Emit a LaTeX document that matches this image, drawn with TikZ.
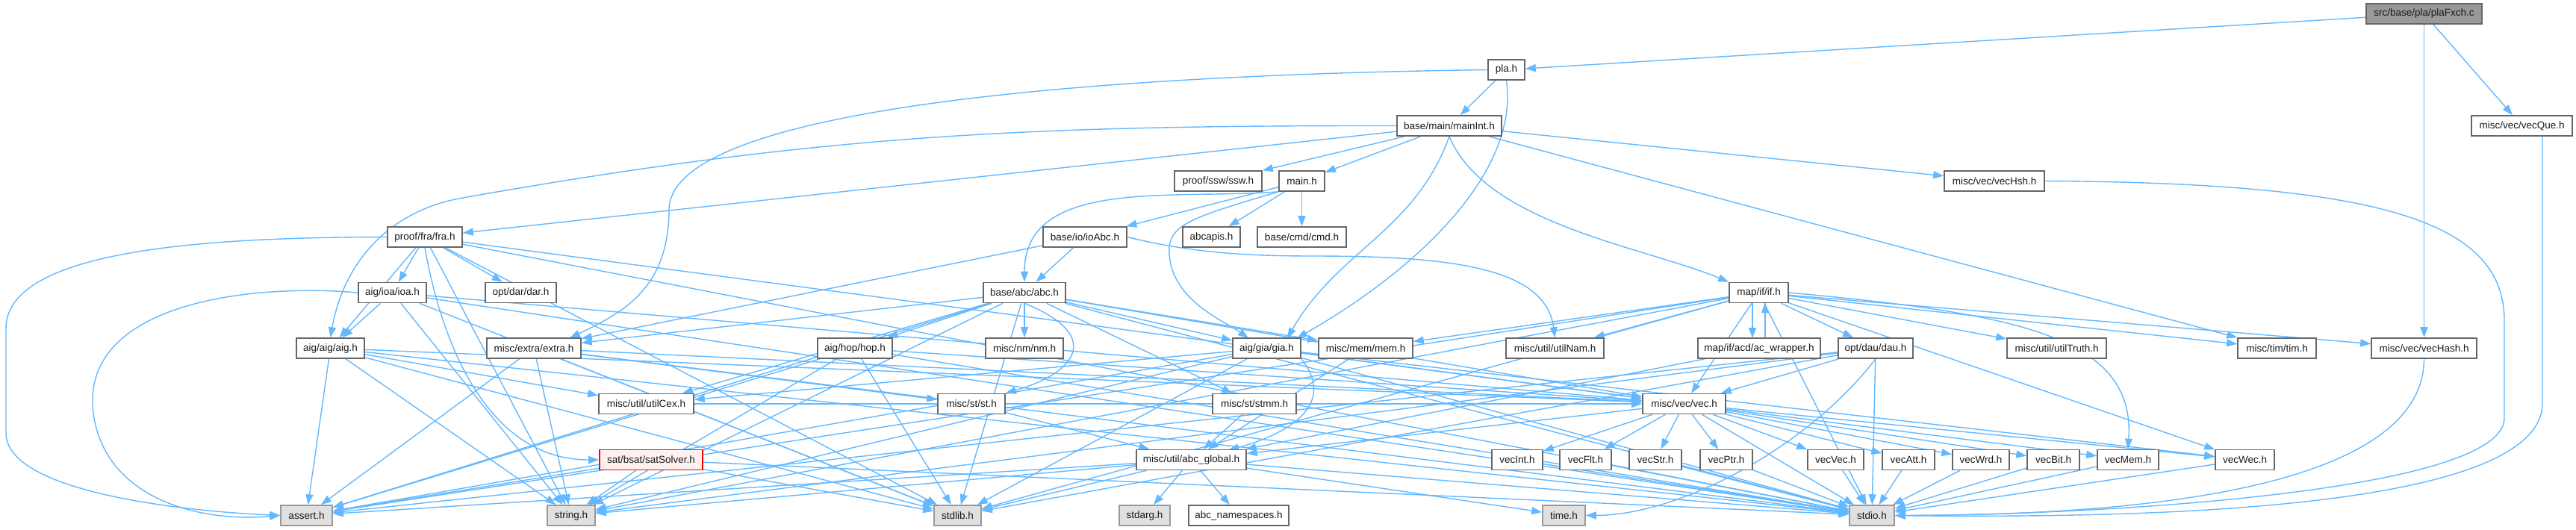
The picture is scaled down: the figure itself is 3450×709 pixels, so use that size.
\documentclass[tikz,border=0pt]{standalone}
\usepackage{fontspec}
\setmainfont{Liberation Sans}
\usetikzlibrary{arrows.meta}
\definecolor{edgeblue}{HTML}{63B8FF}
\definecolor{nodeborder}{HTML}{666666}
\definecolor{leafborder}{HTML}{999999}
\definecolor{leaffill}{HTML}{E0E0E0}
\definecolor{rootfill}{HTML}{999999}
\definecolor{redfill}{HTML}{FFF0F0}
\pgfdeclarelayer{bg}
\pgfsetlayers{bg,main}
\begin{document}
\begin{tikzpicture}[x=0.25pt,y=-0.25pt,
  nd/.style={draw=nodeborder, line width=0.4pt, fill=white, minimum height=6.75pt, inner sep=0pt,
    font=\fontsize{3.375}{4}\selectfont, text=black!90},
  W/.style={minimum width=#1*0.25pt},
  sys/.style={nd, draw=leafborder, fill=leaffill},
  root/.style={nd, fill=rootfill},
  trunc/.style={nd, draw=red, fill=redfill},
  e/.style={draw=edgeblue, line width=0.35pt, -{Triangle[length=3.5pt,width=2.5pt]}},
]
\useasboundingbox (0,0) rectangle (3450,709);
% row 0
\node[root, W=155] (plaFxch) at (3246.5,18.5) {src/base/pla/plaFxch.c};
% row 1
\node[nd, W=49] (pla) at (2017.5,93.5) {pla.h};
% row 2
\node[nd, W=140] (mainInt) at (1941,168.5) {base/main/mainInt.h};
\node[nd, W=135] (vecQue) at (3377.5,168.5) {misc/vec/vecQue.h};
% row 3
\node[nd, W=117] (ssw) at (1631.5,242.5) {proof/ssw/ssw.h};
\node[nd, W=61] (mainh) at (1743.5,242.5) {main.h};
\node[nd, W=134] (vecHsh) at (2671,242.5) {misc/vec/vecHsh.h};
% row 4
\node[nd, W=100] (fra) at (569,317.5) {proof/fra/fra.h};
\node[nd, W=112] (ioAbc) at (1453,317.5) {base/io/ioAbc.h};
\node[nd, W=77] (abcapis) at (1622.5,317.5) {abcapis.h};
\node[nd, W=119] (cmd) at (1743.5,317.5) {base/cmd/cmd.h};
% row 5
\node[nd, W=91] (ioa) at (525.5,392) {aig/ioa/ioa.h};
\node[nd, W=95] (dar) at (697.5,392) {opt/dar/dar.h};
\node[nd, W=110] (abc) at (1372,392) {base/abc/abc.h};
\node[nd, W=79] (ifh) at (2355.5,392) {map/if/if.h};
% row 6
\node[nd, W=91] (aig) at (442.5,466.5) {aig/aig/aig.h};
\node[nd, W=126] (extra) at (715,466.5) {misc/extra/extra.h};
\node[nd, W=100] (hop) at (1145,466.5) {aig/hop/hop.h};
\node[nd, W=104] (nm) at (1372,466.5) {misc/nm/nm.h};
\node[nd, W=91] (gia) at (1696.5,466.5) {aig/gia/gia.h};
\node[nd, W=126] (mem) at (1829,466.5) {misc/mem/mem.h};
\node[nd, W=131] (utilNam) at (2082.5,466.5) {misc/util/utilNam.h};
\node[nd, W=164] (acw) at (2356,466.5) {map/if/acd/ac\_wrapper.h};
\node[nd, W=100] (dau) at (2512,466.5) {opt/dau/dau.h};
\node[nd, W=133] (utilTruth) at (2754.5,466.5) {misc/util/utilTruth.h};
\node[nd, W=105] (tim) at (3049.5,466.5) {misc/tim/tim.h};
\node[nd, W=141] (vecHash) at (3246.5,466.5) {misc/vec/vecHash.h};
% row 7
\node[nd, W=127] (utilCex) at (865.5,541) {misc/util/utilCex.h};
\node[nd, W=90] (st) at (1301,541) {misc/st/st.h};
\node[nd, W=112] (stmm) at (1680,541) {misc/st/stmm.h};
\node[nd, W=111] (vec) at (2255.5,541) {misc/vec/vec.h};
% row 8
\node[trunc, W=138] (sat) at (872,616) {sat/bsat/satSolver.h};
\node[nd, W=147] (global) at (1595.5,616) {misc/util/abc\_global.h};
\node[nd, W=68] (vecInt) at (2032,616) {vecInt.h};
\node[nd, W=69] (vecFlt) at (2123.5,616) {vecFlt.h};
\node[nd, W=70] (vecStr) at (2217,616) {vecStr.h};
\node[nd, W=70] (vecPtr) at (2312,616) {vecPtr.h};
\node[nd, W=75] (vecVec) at (2458.5,616) {vecVec.h};
\node[nd, W=70] (vecAtt) at (2556,616) {vecAtt.h};
\node[nd, W=76] (vecWrd) at (2653,616) {vecWrd.h};
\node[nd, W=70] (vecBit) at (2750,616) {vecBit.h};
\node[nd, W=82] (vecMem) at (2850,616) {vecMem.h};
\node[nd, W=79] (vecWec) at (3006.5,616) {vecWec.h};
% row 9
\node[sys, W=69] (assert) at (410.5,690.5) {assert.h};
\node[sys, W=64] (stringh) at (765,690.5) {string.h};
\node[sys, W=63] (stdlib) at (1282.5,690.5) {stdlib.h};
\node[sys, W=68] (stdarg) at (1533,690.5) {stdarg.h};
\node[nd, W=134] (abcns) at (1659,690.5) {abc\_namespaces.h};
\node[sys, W=57] (timeh) at (2094.5,690.5) {time.h};
\node[sys, W=60] (stdio) at (2507,690.5) {stdio.h};

% way points of the routed connectors
\coordinate (wL1) at (8,440);
\coordinate (wL2) at (8,580);
\coordinate (wL3) at (126,560);
\coordinate (wP) at (896,280);
\coordinate (wA) at (620,265);
\coordinate (wG) at (1566,330);
\coordinate (wN) at (1760,343);
\coordinate (wR1) at (3354,430);
\coordinate (wR2) at (3354,560);
\coordinate (wQ0) at (3405,182);
\coordinate (wQ1) at (3405,540);
\coordinate (extraT) at (763,453);
\coordinate (giaT1) at (1737,453);
\coordinate (giaT2) at (1724,453);
\coordinate (giaT3) at (1672,453);
\coordinate (globalT) at (1645,603);
\coordinate (ifhDa) at (2347,405);
\coordinate (acwDa) at (2347,453);
\coordinate (ifhUa) at (2364,405);
\coordinate (acwUa) at (2364,453);

\begin{pgfonlayer}{bg}
% top part
\draw[e] (plaFxch) -- (pla);
\draw[e] (plaFxch) -- (vecHash);
\draw[e] (plaFxch) -- (vecQue);
\draw[e] (pla) -- (mainInt);
\draw[e] (pla.west) .. controls (1500,100) and (900,140) .. (wP) .. controls (896,390) and (830,420) .. (extraT);
\draw[e] (pla.south) .. controls (2035,230) and (1900,360) .. (giaT1);
\draw[e] (mainInt) -- (mainh);
\draw[e] (mainInt) -- (ssw);
\draw[e] (mainInt) -- (fra);
\draw[e] (mainInt) -- (tim);
\draw[e] (mainInt) -- (vecHsh);
\draw[e] (mainInt.west) .. controls (1380,168) and (1100,180) .. (wA) .. controls (520,282) and (460,353) .. (aig.north);
\draw[e] (mainInt.south) .. controls (1895,310) and (1792,335) .. (giaT2);
\draw[e] (mainInt.south) .. controls (1990,300) and (2200,330) .. (ifh.north west);
\draw[e] (mainh) -- (ioAbc);
\draw[e] (mainh) -- (abcapis);
\draw[e] (mainh) -- (cmd);
\draw[e] (mainh.south west) .. controls (1572,268) and (1372,237) .. (abc.north);
\draw[e] (mainh.south west) .. controls (1600,290) and (1570,300) .. (wG) .. controls (1562,400) and (1640,430) .. (giaT3);
\draw[e] (ioAbc) -- (abc);
\draw[e] (ioAbc) -- (extra);
\draw[e] (ioAbc.east) .. controls (1600,340) and (1680,343) .. (wN) .. controls (1950,343) and (2070,360) .. (utilNam.north);
% fra
\draw[e] (fra) -- (ioa);
\draw[e] (fra) -- (aig);
\draw[e] (fra) -- (dar);
\draw[e] (fra) -- (vec);
\draw[e] (fra) -- (stdio);
\draw[e] (fra) -- (stdlib);
\draw[e] (fra) -- (stringh);
\draw[e] (fra.south) .. controls (594,473) and (659,616) .. (sat.west);
\draw[e] (fra.west) .. controls (300,318) and (8,330) .. (wL1) -- (wL2) .. controls (8,660) and (250,685) .. (assert.west);
% ioa
\draw[e] (ioa) -- (aig);
\draw[e] (ioa) -- (vec);
\draw[e] (ioa) -- (stdio);
\draw[e] (ioa) -- (stdlib);
\draw[e] (ioa) -- (stringh);
\draw[e] (ioa.west) .. controls (327,379) and (100,409) .. (wL3) .. controls (145,668) and (266,700) .. (assert.west);
% aig
\draw[e] (aig) -- (vec);
\draw[e] (aig) -- (utilCex);
\draw[e] (aig) -- (stdio);
\draw[e] (aig) -- (stdlib);
\draw[e] (aig) -- (stringh);
\draw[e] (aig) -- (assert);
% abc
\draw[e] (abc) -- (hop);
\draw[e] (abc) -- (nm);
\draw[e] (abc.south) .. controls (1480,450) and (1440,500) .. (st.north east);
\draw[e] (abc) -- (stmm);
\draw[e] (abc) -- (gia);
\draw[e] (abc) -- (mem);
\draw[e] (abc) -- (utilCex);
\draw[e] (abc) -- (extra);
\draw[e] (abc) -- (vec);
\draw[e] (abc) -- (stdio);
\draw[e] (abc) -- (stdlib);
\draw[e] (abc) -- (stringh);
\draw[e] (abc) -- (assert);
% hop
\draw[e] (hop) -- (vec);
\draw[e] (hop) -- (stdio);
\draw[e] (hop) -- (stdlib);
\draw[e] (hop) -- (stringh);
\draw[e] (hop) -- (assert);
% extra
\draw[e] (extra) -- (st);
\draw[e] (extra) -- (vec);
\draw[e] (extra) -- (stdio);
\draw[e] (extra) -- (stdlib);
\draw[e] (extra) -- (stringh);
\draw[e] (extra) -- (assert);
% gia
\draw[e] (gia) -- (vec);
\draw[e] (gia) -- (vecWec);
\draw[e] (gia) -- (utilCex);
\draw[e] (gia.south east) .. controls (1790,540) and (1730,580) .. (globalT);
\draw[e] (gia) -- (stdio);
\draw[e] (gia) -- (stdlib);
\draw[e] (gia) -- (stringh);
\draw[e] (gia) -- (assert);
% small ones
\draw[e] (mem) -- (global);
\draw[e] (stmm) -- (global);
\draw[e] (st) -- (global);
\draw[e] (utilCex) -- (vec);
\draw[e] (sat) -- (stdio);
\draw[e] (sat) -- (stdlib);
\draw[e] (sat) -- (stringh);
\draw[e] (sat) -- (assert);
% if
\draw[e] (ifhDa) -- (acwDa);
\draw[e] (acwUa) -- (ifhUa);
\draw[e] (ifh) -- (dau);
\draw[e] (ifh) -- (utilTruth);
\draw[e] (ifh) -- (utilNam);
\draw[e] (ifh) -- (mem);
\draw[e] (ifh) -- (tim);
\draw[e] (ifh) -- (vecHash);
\draw[e] (ifh.east) .. controls (2700,420) and (2860,450) .. (vecMem.north);
\draw[e] (ifh) -- (vecWec);
\draw[e] (ifh) -- (vec);
\draw[e] (ifh) -- (stdio);
\draw[e] (ifh) -- (stdlib);
\draw[e] (ifh) -- (stringh);
\draw[e] (ifh) -- (assert);
\draw[e] (acw) -- (global);
% dau
\draw[e] (dau) -- (vec);
\draw[e] (dau.south) .. controls (2420,600) and (2250,690) .. (timeh.east);
\draw[e] (dau) -- (stdio);
\draw[e] (dau) -- (stdlib);
\draw[e] (dau) -- (stringh);
\draw[e] (dau) -- (assert);
% vec
\draw[e] (vec) -- (vecInt);
\draw[e] (vec) -- (vecFlt);
\draw[e] (vec) -- (vecStr);
\draw[e] (vec) -- (vecPtr);
\draw[e] (vec) -- (vecVec);
\draw[e] (vec) -- (vecAtt);
\draw[e] (vec) -- (vecWrd);
\draw[e] (vec) -- (vecBit);
\draw[e] (vec) -- (vecMem);
\draw[e] (vec) -- (vecWec);
\draw[e] (vec) -- (global);
\draw[e] (vec) -- (stdio);
% vec members
\draw[e] (vecInt) -- (stdio);
\draw[e] (vecFlt) -- (stdio);
\draw[e] (vecStr) -- (stdio);
\draw[e] (vecPtr) -- (stdio);
\draw[e] (vecVec) -- (stdio);
\draw[e] (vecAtt) -- (stdio);
\draw[e] (vecWrd) -- (stdio);
\draw[e] (vecBit) -- (stdio);
\draw[e] (vecMem) -- (stdio);
\draw[e] (vecWec) -- (stdio);
% global
\draw[e] (global) -- (stdio);
\draw[e] (global) -- (stdlib);
\draw[e] (global) -- (stringh);
\draw[e] (global) -- (assert);
\draw[e] (global) -- (stdarg);
\draw[e] (global) -- (abcns);
\draw[e] (global) -- (timeh);
% right side curves
\draw[e] (vecHsh.east) .. controls (3200,245) and (3354,300) .. (wR1) -- (wR2) .. controls (3354,660) and (2800,690) .. (stdio.east);
\draw[e] (wQ0) -- (wQ1) .. controls (3405,680) and (2900,695) .. (stdio.east);
\draw[e] (vecHash.south) .. controls (3246,620) and (3000,690) .. (stdio.east);
\end{pgfonlayer}
\end{tikzpicture}
\end{document}
